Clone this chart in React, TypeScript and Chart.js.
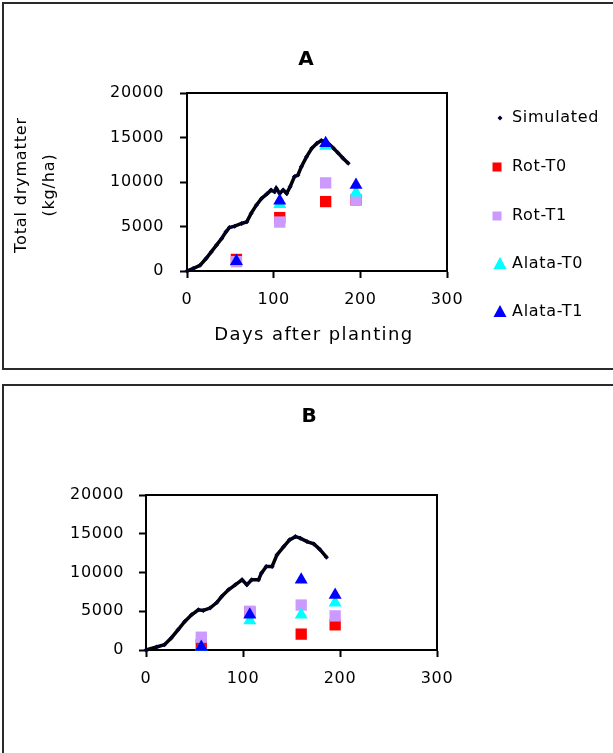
import React, { useEffect, useRef } from "react";
import { Chart, registerables } from "chart.js";
Chart.register(...registerables);

const FONT = "'DejaVu Sans', Verdana, sans-serif";

// ---------- data ----------
const obsDays = [57, 107, 160, 195];

// Panel A
const simDaysA = [0, 7, 15, 22, 28, 34, 40, 45, 49, 55, 63, 69, 74, 80, 86, 92, 97, 101, 103, 107, 111, 115, 119, 124, 128, 132, 138, 144, 150, 155, 161, 169, 174, 180, 186];
const simValsA = [0, 270, 640, 1400, 2140, 2900, 3650, 4400, 4890, 5040, 5340, 5520, 6470, 7400, 8160, 8640, 9090, 8900, 9290, 8720, 9090, 8720, 9470, 10600, 10790, 11720, 12850, 13790, 14360, 14650, 14540, 13790, 13300, 12670, 12100];
const rotT0A = [1300, 6000, 7800, 8000];
const rotT1A = [1050, 5500, 9900, 8000];
const alataT0A = [1000, 7500, 14050, 8800];
const alataT1A = [1100, 7900, 14350, 9650];

// Panel B
const simDaysB = [0, 11, 19, 26, 33, 40, 47, 54, 59, 66, 73, 78, 85, 92, 99, 104, 109, 116, 119, 124, 130, 135, 142, 148, 154, 159, 166, 173, 179, 186];
const simValsB = [0, 390, 680, 1550, 2610, 3680, 4550, 5190, 5100, 5410, 6130, 6900, 7770, 8410, 9050, 8410, 9050, 9050, 9920, 10770, 10770, 12270, 13340, 14210, 14630, 14430, 13990, 13690, 13010, 11980];
const rotT0B = [700, 4900, 2050, 3250];
const rotT1B = [1650, 5000, 5800, 4400];
const alataT0B = [400, 3800, 4550, 6100];
const alataT1B = [400, 4550, 9050, 7100];

const xTicks = [0, 100, 200, 300];
const xTickLabels = ["0", "100", "200", "300"];
const yTicks = [0, 5000, 10000, 15000, 20000];
const yTickLabels = ["0", "5000", "10000", "15000", "20000"];

const seriesNames = ["Simulated", "Rot-T0", "Rot-T1", "Alata-T0", "Alata-T1"];
const seriesColors = ["#000000", "#FF0000", "#CC99FF", "#00FFFF", "#0000FF"];
const simPointColor = "#000033";

// ---------- helpers ----------
function pts(xs: number[], ys: number[]) {
  return xs.map((x, i) => ({ x, y: ys[i] }));
}

function buildDatasets(simDays: number[], simVals: number[], obs: number[][]) {
  const mk = (i: number, style: string, r: number, order: number) => ({
    label: seriesNames[i],
    data: pts(obsDays, obs[i - 1]),
    pointStyle: style,
    pointRadius: r,
    backgroundColor: seriesColors[i],
    pointBorderWidth: 0,
    order,
    clip: false,
  });
  return [
    {
      label: seriesNames[0],
      data: pts(simDays, simVals),
      showLine: true,
      borderColor: seriesColors[0],
      borderWidth: 3.5,
      pointStyle: "rectRot",
      pointRadius: 2.5,
      pointBackgroundColor: simPointColor,
      pointBorderWidth: 0,
      order: 5,
      clip: false,
    },
    mk(1, "rect", 8, 4),
    mk(2, "rect", 8, 3),
    mk(3, "triangle", 7.5, 2),
    mk(4, "triangle", 7.5, 1),
  ];
}

type Decor = {
  title: string;
  titleX: number;
  titleY: number;
  xTitle?: string;
  xTitleX?: number;
  xTitleY?: number;
  yTitle?: string[];
  yTitleX?: number[];
  yTitleY?: number;
  legend?: { markerX: number; textX: number; ys: number[] };
};

function setLS(ctx: any, v: string) {
  try {
    ctx.letterSpacing = v;
  } catch (e) {}
}

function makeDecor(d: Decor) {
  return {
    id: "decor",
    beforeLayout(chart: any) {
      setLS(chart.ctx, "0.6px");
    },
    beforeDraw(chart: any) {
      setLS(chart.ctx, "0.6px");
    },
    beforeDatasetsDraw(chart: any) {
      const { ctx, chartArea: a } = chart;
      ctx.save();
      ctx.strokeStyle = "#000";
      ctx.lineWidth = 2;
      ctx.strokeRect(a.left, a.top, a.right - a.left, a.bottom - a.top);
      ctx.restore();
    },
    afterDraw(chart: any) {
      const ctx = chart.ctx;
      ctx.save();
      ctx.fillStyle = "#000";
      ctx.textBaseline = "middle";
      // panel title
      setLS(ctx, "0px");
      ctx.textAlign = "center";
      ctx.font = `bold 20px ${FONT}`;
      ctx.fillText(d.title, d.titleX, d.titleY);
      // x title
      if (d.xTitle) {
        setLS(ctx, "1.4px");
        ctx.font = `18px ${FONT}`;
        ctx.fillText(d.xTitle, d.xTitleX, d.xTitleY);
      }
      // y title
      if (d.yTitle && d.yTitleX) {
        setLS(ctx, "0.85px");
        ctx.font = `16px ${FONT}`;
        d.yTitle.forEach((line, i) => {
          ctx.save();
          ctx.translate(d.yTitleX![i], d.yTitleY!);
          ctx.rotate(-Math.PI / 2);
          ctx.fillText(line, 0, 0);
          ctx.restore();
        });
      }
      // legend
      if (d.legend) {
        const L = d.legend;
        setLS(ctx, "0.7px");
        ctx.font = `16px ${FONT}`;
        ctx.textAlign = "left";
        chart.data.datasets.forEach((ds: any, i: number) => {
          const y = L.ys[i];
          const cx = L.markerX;
          if (ds.pointStyle === "rectRot") {
            ctx.fillStyle = simPointColor;
            ctx.beginPath();
            ctx.moveTo(cx + 3, y - 2.5);
            ctx.lineTo(cx + 5.5, y);
            ctx.lineTo(cx + 3, y + 2.5);
            ctx.lineTo(cx + 0.5, y);
            ctx.closePath();
            ctx.fill();
          } else if (ds.pointStyle === "rect") {
            ctx.fillStyle = ds.backgroundColor;
            ctx.fillRect(cx - 4.5, y - 4.5, 9, 9);
          } else {
            ctx.fillStyle = ds.backgroundColor;
            ctx.beginPath();
            ctx.moveTo(cx + 3, y - 7);
            ctx.lineTo(cx + 9.5, y + 5);
            ctx.lineTo(cx - 3.5, y + 5);
            ctx.closePath();
            ctx.fill();
          }
          ctx.fillStyle = "#000";
          ctx.fillText(ds.label, L.textX, y);
        });
      }
      ctx.restore();
    },
  };
}

function makeScales(yWidth: number, xHeight: number, yPad: number, xPad: number) {
  const grid = {
    drawOnChartArea: false,
    drawTicks: true,
    tickLength: 7,
    tickWidth: 2,
    tickColor: "#000",
  };
  return {
    x: {
      type: "linear",
      min: 0,
      max: 300,
      afterBuildTicks: (s: any) => {
        s.ticks = xTicks.map((v) => ({ value: v }));
      },
      afterFit: (s: any) => {
        s.height = xHeight;
      },
      ticks: {
        color: "#000",
        font: { family: FONT, size: 16 },
        padding: xPad,
        maxRotation: 0,
        callback: (_v: any, i: number) => xTickLabels[i],
      },
      grid,
      border: { display: true, color: "#000", width: 2 },
    },
    y: {
      type: "linear",
      min: 0,
      max: 20000,
      afterBuildTicks: (s: any) => {
        s.ticks = yTicks.map((v) => ({ value: v }));
      },
      afterFit: (s: any) => {
        s.width = yWidth;
      },
      ticks: {
        color: "#000",
        font: { family: FONT, size: 16 },
        padding: yPad,
        callback: (_v: any, i: number) => yTickLabels[i],
      },
      grid,
      border: { display: true, color: "#000", width: 2 },
    },
  };
}

function Panel(props: {
  top: number;
  height: number;
  datasets: any[];
  padding: any;
  yWidth: number;
  xHeight: number;
  yPad: number;
  xPad: number;
  decor: Decor;
}) {
  const ref = useRef<HTMLCanvasElement | null>(null);
  useEffect(() => {
    if (!ref.current) return;
    const chart = new Chart(ref.current, {
      type: "scatter",
      data: { datasets: props.datasets },
      options: {
        animation: false,
        responsive: false,
        devicePixelRatio: 1,
        layout: { padding: props.padding },
        plugins: {
          legend: { display: false },
          title: { display: false },
          tooltip: { enabled: false },
        },
        scales: makeScales(props.yWidth, props.xHeight, props.yPad, props.xPad) as any,
      },
      plugins: [makeDecor(props.decor) as any],
    } as any);
    return () => chart.destroy();
  }, []);
  return (
    <canvas
      ref={ref}
      width={613}
      height={props.height}
      style={{ position: "absolute", left: 0, top: props.top, width: 613, height: props.height }}
    />
  );
}

export default function App() {
  const dsA = buildDatasets(simDaysA, simValsA, [rotT0A, rotT1A, alataT0A, alataT1A]);
  const dsB = buildDatasets(simDaysB, simValsB, [rotT0B, rotT1B, alataT0B, alataT1B]);
  return (
    <div
      style={{
        position: "absolute",
        left: 0,
        top: 0,
        width: 613,
        height: 753,
        overflow: "hidden",
        background: "#fff",
      }}
    >
      <div
        style={{
          position: "absolute",
          left: 2,
          top: 2,
          width: 700,
          height: 368,
          boxSizing: "border-box",
          border: "2px solid #2a2a2a",
        }}
      />
      <div
        style={{
          position: "absolute",
          left: 2,
          top: 384,
          width: 700,
          height: 500,
          boxSizing: "border-box",
          border: "2px solid #2a2a2a",
        }}
      />
      <Panel
        top={0}
        height={370}
        datasets={dsA}
        padding={{ top: 93, left: 0, right: 166, bottom: 0 }}
        yWidth={187}
        xHeight={99}
        yPad={16}
        xPad={12}
        decor={{
          title: "A",
          titleX: 306,
          titleY: 60,
          xTitle: "Days after planting",
          xTitleX: 314,
          xTitleY: 335,
          yTitle: ["Total drymatter", "(kg/ha)"],
          yTitleX: [21.5, 50],
          yTitleY: 185,
          legend: { markerX: 497, textX: 512, ys: [118, 167, 216, 264, 312] },
        }}
      />
      <Panel
        top={380}
        height={373}
        datasets={dsB}
        padding={{ top: 115, left: 0, right: 176, bottom: 0 }}
        yWidth={146}
        xHeight={103}
        yPad={15}
        xPad={12}
        decor={{ title: "B", titleX: 309, titleY: 37 }}
      />
    </div>
  );
}
